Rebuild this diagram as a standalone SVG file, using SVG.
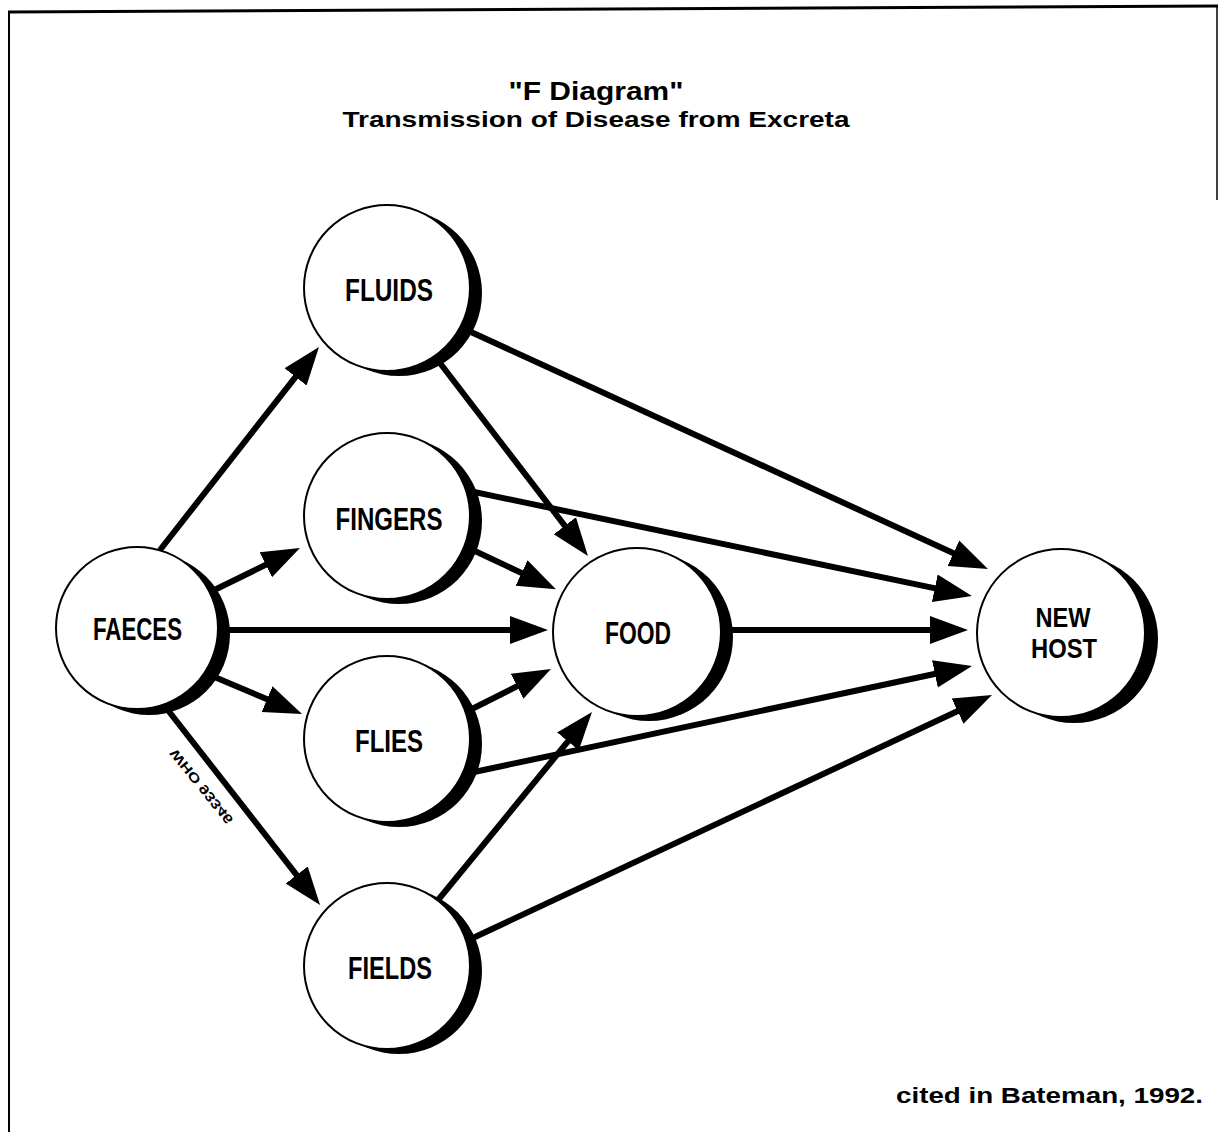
<svg xmlns="http://www.w3.org/2000/svg" width="1219" height="1132" viewBox="0 0 1219 1132">
<defs>
<style>
.t{font-family:"Liberation Sans",Arial,sans-serif;font-weight:bold;fill:#000}
.lbl{font-family:"Liberation Sans",Arial,sans-serif;font-weight:bold;font-size:31px;fill:#000;text-anchor:middle}
.lbl2{font-size:27px}
.sh{fill:#000}
.c{fill:#fff;stroke:#000;stroke-width:2}
.e{stroke:#000;stroke-width:6;fill:none;marker-end:url(#ah)}
</style>
<marker id="ah" markerUnits="userSpaceOnUse" viewBox="0 -15 40 30" refX="8" refY="0" markerWidth="40" markerHeight="30" orient="auto">
<path d="M0,-14 L38,0 L0,14 Z" fill="#000"/>
</marker>
</defs>
<rect width="1219" height="1132" fill="#fff"/>
<g id="frame" stroke="#000" fill="none">
<path d="M8,12 L1218,6" stroke-width="3"/>
<path d="M9,11 L9,1132" stroke-width="2"/>
<path d="M1217,6 L1217,200" stroke-width="1.5"/>
</g>
<g id="title">
<text class="t" x="596" y="100" font-size="26" text-anchor="middle" textLength="175" lengthAdjust="spacingAndGlyphs">"F Diagram"</text>
<text class="t" x="596" y="127" font-size="22" text-anchor="middle" textLength="507" lengthAdjust="spacingAndGlyphs">Transmission  of Disease from Excreta</text>
</g>
<g id="connectors">
<line class="e" x1="160" y1="550" x2="300.5" y2="370.6"/>
<line class="e" x1="200" y1="597" x2="273" y2="561.2"/>
<line class="e" x1="210" y1="630" x2="518" y2="630"/>
<line class="e" x1="205" y1="673" x2="274.4" y2="702.3"/>
<line class="e" x1="160" y1="700" x2="301.6" y2="881.3"/>
<line class="e" x1="430" y1="350" x2="569.7" y2="532.2"/>
<line class="e" x1="460" y1="327" x2="960.7" y2="556.5"/>
<line class="e" x1="460" y1="544" x2="528.8" y2="576.4"/>
<line class="e" x1="460" y1="489" x2="942.6" y2="589.9"/>
<line class="e" x1="710" y1="630" x2="938" y2="630"/>
<line class="e" x1="460" y1="715" x2="524.2" y2="682.6"/>
<line class="e" x1="460" y1="775" x2="942.7" y2="672.2"/>
<line class="e" x1="425" y1="916" x2="573" y2="735.2"/>
<line class="e" x1="460" y1="944" x2="964.8" y2="707.7"/>
</g>
<g id="faeces">
<circle class="sh" cx="149" cy="634" r="81"/>
<circle class="c" cx="137" cy="628" r="81"/>
<text class="lbl" x="137.5" y="640" textLength="89" lengthAdjust="spacingAndGlyphs">FAECES</text>
</g>
<g id="fluids">
<circle class="sh" cx="399" cy="293" r="83"/>
<circle class="c" cx="387" cy="288" r="83"/>
<text class="lbl" x="389" y="301" textLength="88" lengthAdjust="spacingAndGlyphs">FLUIDS</text>
</g>
<g id="fingers">
<circle class="sh" cx="399" cy="521" r="83"/>
<circle class="c" cx="387" cy="516" r="83"/>
<text class="lbl" x="389" y="530" textLength="107" lengthAdjust="spacingAndGlyphs">FINGERS</text>
</g>
<g id="flies">
<circle class="sh" cx="399" cy="744" r="83"/>
<circle class="c" cx="387" cy="739" r="83"/>
<text class="lbl" x="389" y="752" textLength="68" lengthAdjust="spacingAndGlyphs">FLIES</text>
</g>
<g id="fields">
<circle class="sh" cx="399" cy="971" r="83"/>
<circle class="c" cx="387" cy="966" r="83"/>
<text class="lbl" x="390" y="979" textLength="84" lengthAdjust="spacingAndGlyphs">FIELDS</text>
</g>
<g id="food">
<circle class="sh" cx="649" cy="637" r="84"/>
<circle class="c" cx="637" cy="632" r="84"/>
<text class="lbl" x="638" y="644" textLength="66" lengthAdjust="spacingAndGlyphs">FOOD</text>
</g>
<g id="newhost">
<circle class="sh" cx="1074" cy="639" r="84"/>
<circle class="c" cx="1061" cy="633" r="84"/>
<text class="lbl lbl2" x="1063" y="627" textLength="55" lengthAdjust="spacingAndGlyphs">NEW</text>
<text class="lbl lbl2" x="1064" y="658" textLength="66" lengthAdjust="spacingAndGlyphs">HOST</text>
</g>
<g id="code">
<text class="t" font-size="13" transform="translate(176,748) rotate(51) scale(1,-1)" textLength="92" lengthAdjust="spacingAndGlyphs">WHO 93346</text>
</g>
<g id="citation">
<text class="t" x="896" y="1103" font-size="22" textLength="307" lengthAdjust="spacingAndGlyphs">cited in Bateman,  1992.</text>
</g>
</svg>
